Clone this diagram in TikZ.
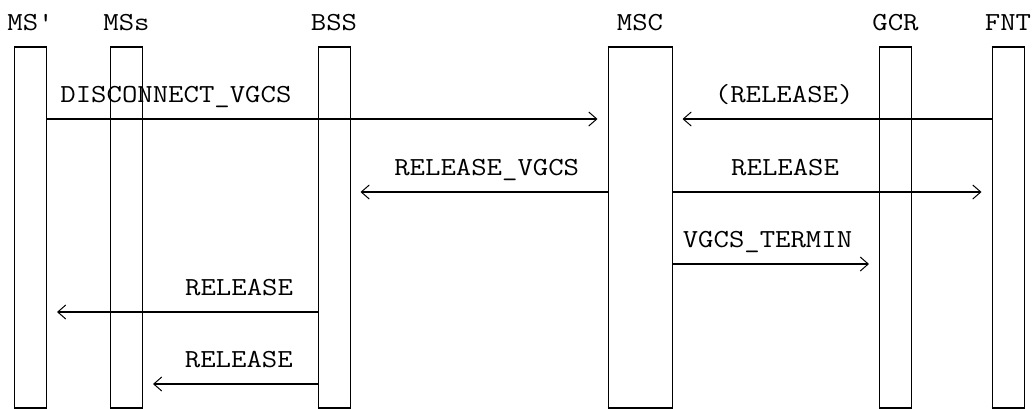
\documentclass[tikz,border=0pt]{standalone}
\usepackage{fontspec}
\setmonofont{Latin Modern Mono}[FakeStretch=1.15]
\usetikzlibrary{positioning,arrows.meta}

\begin{document}
\begin{tikzpicture}[x=0.5pt,y=-0.5pt,
				lane/.style={draw,rectangle,line width=0.5pt,inner sep=0pt,anchor=north,
					minimum width=16pt,minimum height=180pt},
				widelane/.style={lane,minimum width=32pt},
				lidline/.style={line width=1pt},
				tag/.style={inner sep=0pt,font=\ttfamily\fontsize{13}{13}\selectfont},
				msgtext/.style={tag,anchor=base,yshift=8.5pt},
				msg/.style={line width=1pt,shorten >=5pt,
					-{Straight Barb[length=4pt,width=7pt,line width=0.5pt]}}]
				\useasboundingbox (0,0) rectangle (1033,408);
				% lanes
				\node[lane]     (msp) at (30.5,47)  {};
				\node[lane]     (mss) at (126.5,47) {};
				\node[lane]     (bss) at (334,47)   {};
				\node[widelane] (msc) at (640,47)   {};
				\node[lane]     (gcr) at (895.5,47) {};
				\node[lane]     (fnt) at (1008,47)  {};
				\foreach \l in {msp,mss,bss,msc,gcr,fnt}
					\draw[lidline] (\l.north west) -- (\l.north east) (\l.south west) -- (\l.south east);

				\node[tag] (msptag) [above=8pt of msp] {MS'};
				\node[tag] (msstag) [above=8pt of mss] {MSs};
				\node[tag] (bsstag) [above=8pt of bss] {BSS};
				\node[tag] (msctag) [above=8pt of msc] {MSC};
				\node[tag] (gcrtag) [above=8pt of gcr] {GCR};
				\node[tag] (fnttag) [above=8pt of fnt] {FNT};

				% messages
				\draw[msg] (msp.east |- 0,119) -- (msc.west |- 0,119)
					node[msgtext,pos=0.23] (disc) {DISCONNECT\_VGCS};
				\draw[msg] (fnt.west |- 0,119) -- (msc.east |- 0,119)
					node[msgtext,pos=0.65] (relfnt) {(RELEASE)};
				\draw[msg] (msc.west |- 0,192) -- (bss.east |- 0,192)
					node[msgtext,pos=0.47] (relvgcs) {RELEASE\_VGCS};
				\draw[msg] (msc.east |- 0,192) -- (fnt.west |- 0,192)
					node[msgtext,pos=0.353] (relmsc) {RELEASE};
				\draw[msg] (msc.east |- 0,264) -- (gcr.west |- 0,264)
					node[msgtext,pos=0.46] (termin) {VGCS\_TERMIN};
				\draw[msg] (bss.west |- 0,312) -- (msp.east |- 0,312)
					node[msgtext,pos=0.29] (relmsp) {RELEASE};
				\draw[msg] (bss.west |- 0,384) -- (mss.east |- 0,384)
					node[msgtext,pos=0.451] (relmss) {RELEASE};
			\end{tikzpicture}
\end{document}
